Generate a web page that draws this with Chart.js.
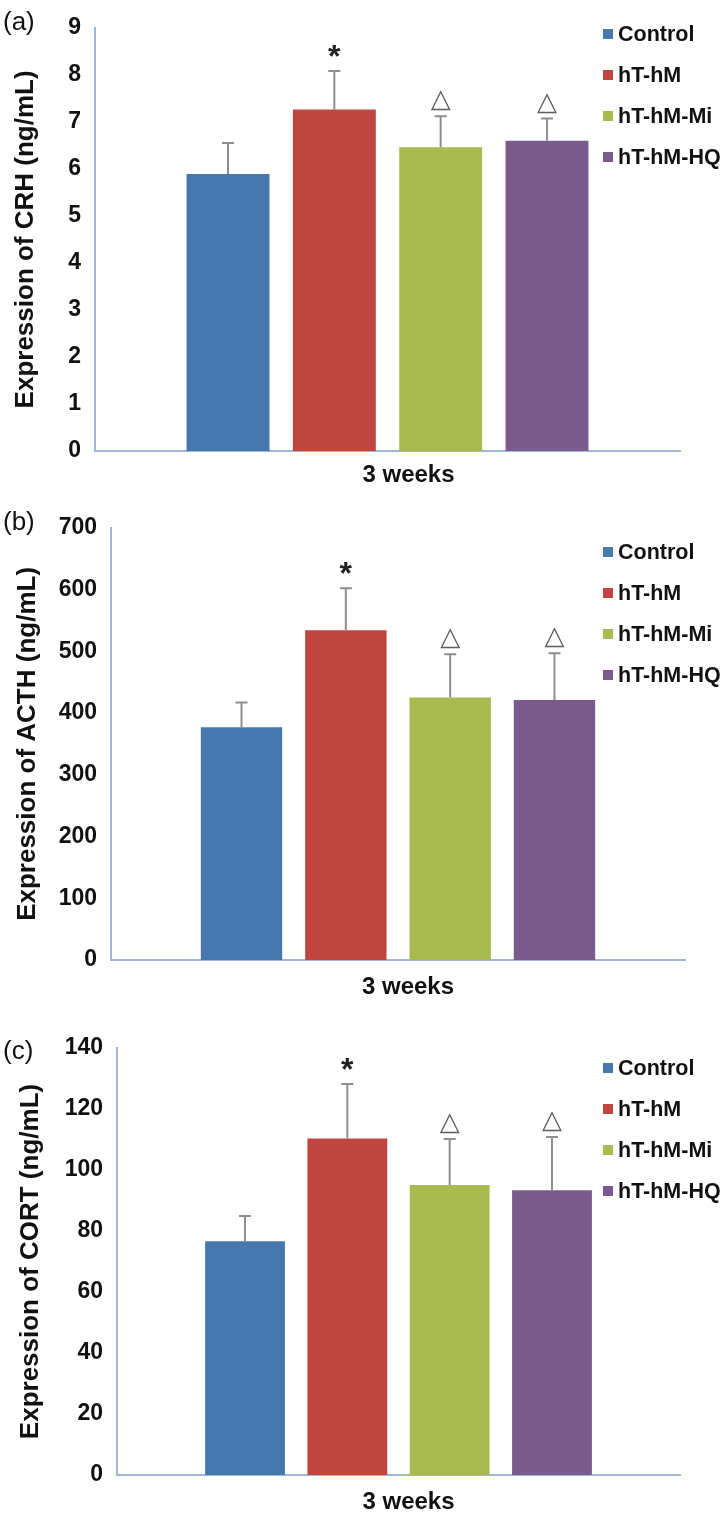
<!DOCTYPE html>
<html>
<head>
<meta charset="utf-8">
<script src="https://cdn.jsdelivr.net/npm/chart.js@4.4.1/dist/chart.umd.min.js"></script>
<style>
  body { margin: 0; background: #fff; }
  #page { position: relative; width: 726px; height: 1517px; overflow: hidden;
          font-family: "Liberation Sans", Arial, sans-serif; }
  .panel { position: absolute; left: 0; width: 726px; }
  .panel canvas { position: absolute; left: 0; top: 0; }
  .tag { position: absolute; left: 3px; font-size: 26px; line-height: 26px; color: #111; }
  .item { position: absolute; left: 603px; height: 24px; line-height: 24px; white-space: nowrap;
          font-weight: bold; font-size: 21.5px; color: #111; }
  .item span { position: absolute; left: 0; top: 7px; width: 10px; height: 10px; }
  .item b { position: absolute; left: 15px; top: 0; }
</style>
</head>
<body>
<div id="page"></div>
<script>
// --- data ---
const groups = ["Control", "hT-hM", "hT-hM-Mi", "hT-hM-HQ"];
const colors = ["#4677ae", "#c0443f", "#a9ba50", "#7b5a8d"];
const timeLabels = ["3 weeks"];
const marks = ["", "*", "\u25B3", "\u25B3"];

const crhMeans = [5.89, 7.26, 6.46, 6.60];
const crhSD = [0.66, 0.82, 0.66, 0.47];

const acthMeans = [377, 534, 425, 421];
const acthSD = [40, 68, 70, 76];

const cortMeans = [76.6, 110.3, 95.1, 93.4];
const cortSD = [8.3, 17.9, 15.1, 17.4];

Chart.defaults.font.family = '"Liberation Sans", Arial, sans-serif';
Chart.defaults.color = "#111";

// panel layout (canvas-local pixels)
const panels = [
  { tag: "(a)", top: 0, height: 500, area: { left: 95, top: 25, right: 680, bottom: 451 },
    means: crhMeans, sd: crhSD, max: 9, step: 1, title: "Expression of CRH (ng/mL)",
    titlePad: 10, labelOffset: 21, xPad: 10, tagY: 8, legendY: 22 },
  { tag: "(b)", top: 500, height: 510, area: { left: 111, top: 25, right: 685, bottom: 460 },
    means: acthMeans, sd: acthSD, max: 700, step: 100, title: "Expression of ACTH (ng/mL)",
    titlePad: 12, labelOffset: 10, xPad: 13, tagY: 8, legendY: 40 },
  { tag: "(c)", top: 1010, height: 507, area: { left: 117, top: 38, right: 680, bottom: 465 },
    means: cortMeans, sd: cortSD, max: 140, step: 20, title: "Expression of CORT (ng/mL)",
    titlePad: 15, labelOffset: 10, xPad: 13, tagY: 27, legendY: 46 }
];

const axisColor = "#9bb7d9";
const xH = 40;

// error bars (upper only) + significance marks
const errorBars = {
  id: "errorBars",
  afterDatasetsDraw(chart, args, opts) {
    const { ctx } = chart;
    const y = chart.scales.y;
    ctx.save();
    chart.data.datasets.forEach((ds, i) => {
      const bar = chart.getDatasetMeta(i).data[0];
      const yTop = y.getPixelForValue(ds.data[0] + opts.sd[i]);
      ctx.strokeStyle = "#8e8e8e";
      ctx.lineWidth = 2;
      ctx.beginPath();
      ctx.moveTo(bar.x, bar.y);
      ctx.lineTo(bar.x, yTop);
      ctx.moveTo(bar.x - 6, yTop);
      ctx.lineTo(bar.x + 6, yTop);
      ctx.stroke();

      ctx.textAlign = "center";
      ctx.textBaseline = "alphabetic";
      if (marks[i] === "*") {
        ctx.fillStyle = "#222";
        ctx.font = 'bold 32px "Liberation Sans", Arial, sans-serif';
        ctx.fillText(marks[i], bar.x, yTop - 4);
      } else if (marks[i]) {
        ctx.fillStyle = "#5e5e5e";
        ctx.font = 'bold 26px "DejaVu Sans", sans-serif';
        ctx.fillText(marks[i], bar.x, yTop - 9);
      }
    });
    ctx.restore();
  }
};

const page = document.getElementById("page");

panels.forEach(p => {
  const box = document.createElement("div");
  box.className = "panel";
  box.style.top = p.top + "px";
  box.style.height = p.height + "px";
  page.appendChild(box);

  const canvas = document.createElement("canvas");
  canvas.width = 726;
  canvas.height = p.height;
  box.appendChild(canvas);

  const tag = document.createElement("div");
  tag.className = "tag";
  tag.style.top = p.tagY + "px";
  tag.textContent = p.tag;
  box.appendChild(tag);

  groups.forEach((g, i) => {
    const item = document.createElement("div");
    item.className = "item";
    item.style.top = (p.legendY + i * 41) + "px";
    item.innerHTML = `<span style="background:${colors[i]}"></span><b>${g}</b>`;
    box.appendChild(item);
  });

  const datasets = groups.map((g, i) => ({
    label: g,
    data: [p.means[i]],
    backgroundColor: colors[i],
    borderWidth: 0,
    barPercentage: 0.78,
    categoryPercentage: 0.727
  }));

  new Chart(canvas, {
    type: "bar",
    data: { labels: timeLabels, datasets },
    plugins: [errorBars],
    options: {
      responsive: false,
      animation: false,
      layout: {
        padding: {
          left: 0,
          top: p.area.top,
          right: 726 - p.area.right,
          bottom: p.height - p.area.bottom - xH
        }
      },
      plugins: {
        legend: { display: false },
        tooltip: { enabled: false },
        errorBars: { sd: p.sd }
      },
      scales: {
        x: {
          grid: { display: false, drawTicks: false },
          border: { display: true, color: axisColor, width: 2 },
          ticks: { padding: p.xPad, labelOffset: p.labelOffset,
                   font: { size: 24, weight: "bold" }, color: "#111" },
          afterFit(s) { s.height = xH; }
        },
        y: {
          min: 0,
          max: p.max,
          grid: { display: false, drawTicks: false },
          border: { display: true, color: axisColor, width: 2 },
          ticks: { stepSize: p.step, padding: 14,
                   font: { size: 23, weight: "bold" }, color: "#111" },
          title: { display: true, text: p.title, padding: { top: p.titlePad, bottom: 0 },
                   font: { size: 26, weight: "bold" }, color: "#111" },
          afterFit(s) { s.width = p.area.left; }
        }
      }
    }
  });
});
</script>
</body>
</html>
